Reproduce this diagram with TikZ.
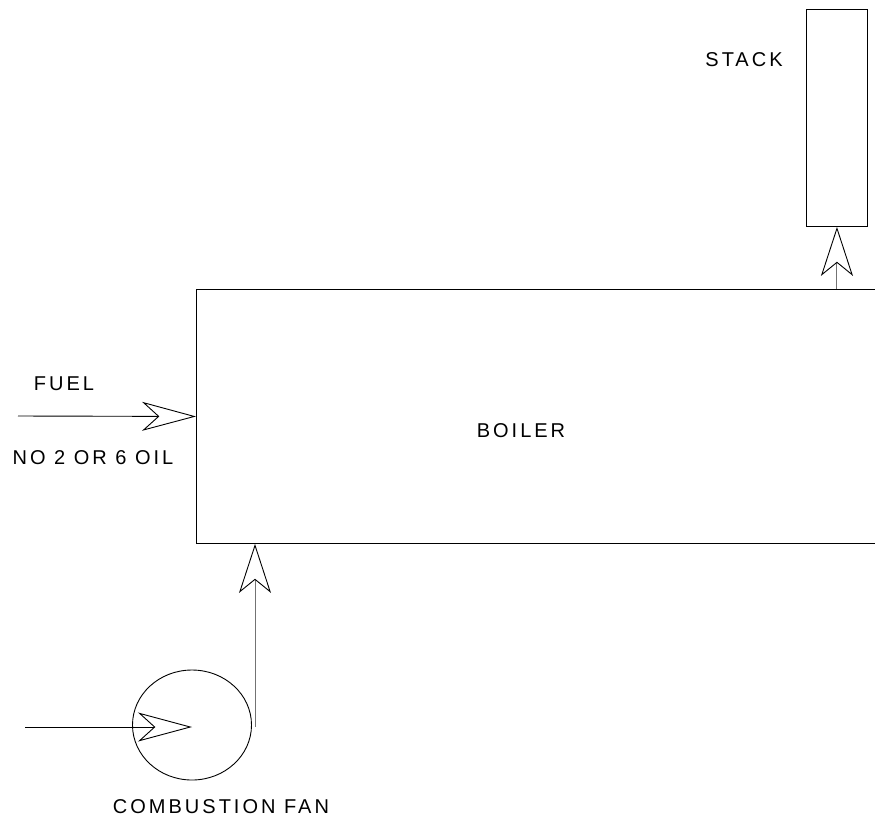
\documentclass[tikz,border=0pt]{standalone}
\usepackage{fontspec}
\setmainfont{Liberation Sans}[LetterSpace=15]
\usetikzlibrary{arrows.meta,shapes.geometric}
\begin{document}
\begin{tikzpicture}[x=1pt,y=-1pt,
  every node/.style={font=\fontsize{20}{24}\selectfont},
  unit/.style={draw, line width=0.9pt, inner sep=0pt},
  hflow/.style={draw, line width=0.9pt, -{Stealth[open, length=54pt, width=29pt, inset=16pt]}},
  vflow/.style={draw=black!55, line width=1pt, -{Stealth[open, color=black, line width=0.9pt, length=49pt, width=32pt, inset=13pt]}},
  lbl/.style={inner sep=0pt}]
\useasboundingbox (0,0) rectangle (875,823);
\node[unit, minimum width=682pt, minimum height=254pt, anchor=north west] (boiler) at (196,289) {};
\node[unit, minimum width=61pt, minimum height=217pt, anchor=north west] (stack) at (806,9) {};
\node[unit, ellipse, minimum width=119pt, minimum height=110pt] (fan) at (192,725) {};
\coordinate (fuelin) at (18,416);
\coordinate (airin) at (25,727);
\coordinate (fanout) at (255,727);
\draw[hflow] (fuelin) -- (boiler.west);
\draw[hflow] (airin) -- (airin -| fan.center);
\draw[vflow] (fanout) -- (fanout |- boiler.south);
\draw[vflow] (stack.south |- boiler.north) -- (stack.south);
\node[lbl] (fuel) at (64,384) {FUEL};
\node[lbl] (oil) at (93,458) {NO 2 OR 6 OIL};
\node[lbl] (boilerlbl) at (521,431) {BOILER};
\node[lbl] (stacklbl) at (744,60) {STACK};
\node[lbl] (fanlbl) at (221,807) {COMBUSTION FAN};
\end{tikzpicture}
\end{document}
